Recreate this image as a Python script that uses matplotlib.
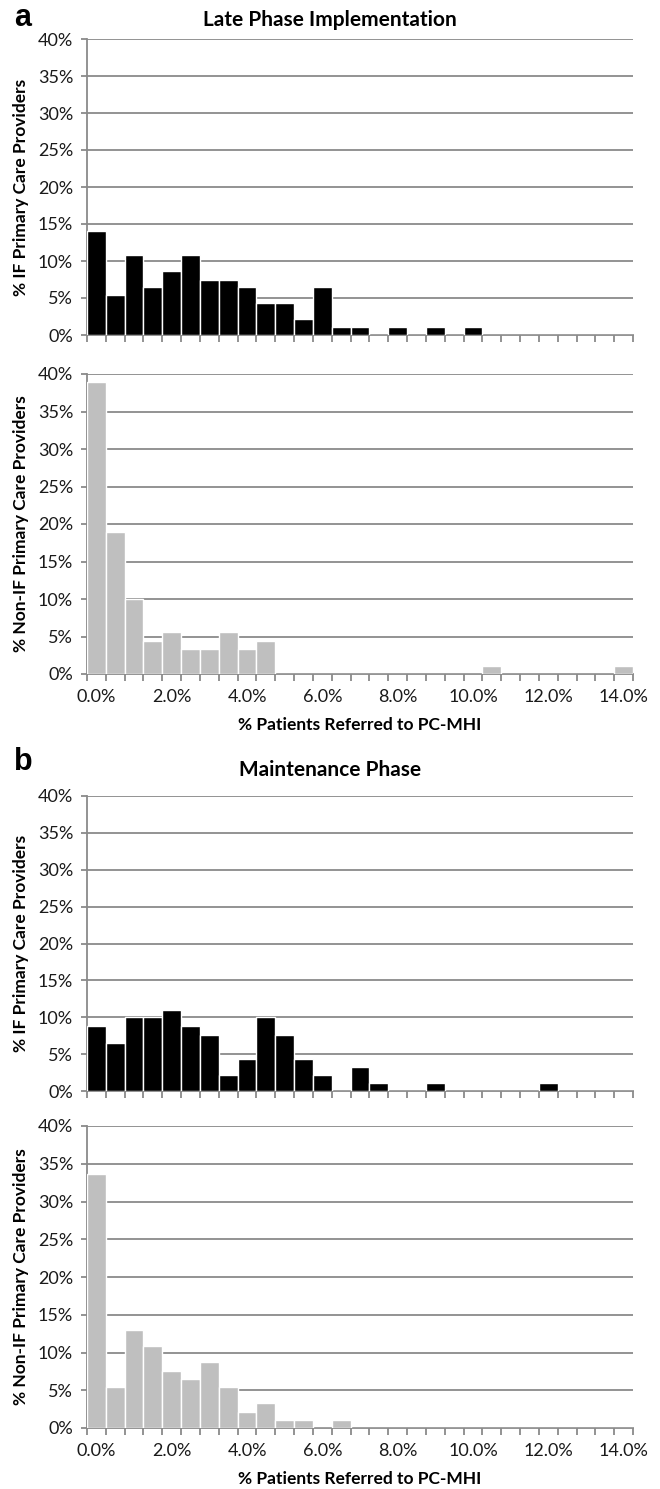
import matplotlib
matplotlib.use("Agg")
import matplotlib.pyplot as plt
from matplotlib.ticker import FixedLocator, FuncFormatter

plt.rcParams['font.family'] = ['Lato', 'DejaVu Sans']

# Bins: % patients referred to PC-MHI, 0.0% .. 14.0% step 0.5%
bins = [i * 0.5 for i in range(29)]
xtick_labels = ["0.0%", "2.0%", "4.0%", "6.0%", "8.0%", "10.0%", "12.0%", "14.0%"]
ytick_values = [0, 5, 10, 15, 20, 25, 30, 35, 40]

# Panel a: Late Phase Implementation
late_if = [14.0, 5.4, 10.8, 6.5, 8.6, 10.8, 7.5, 7.5, 6.5, 4.3, 4.3, 2.2, 6.5, 1.1, 1.1,
           0, 1.1, 0, 1.1, 0, 1.1, 0, 0, 0, 0, 0, 0, 0, 0]
late_nonif = [38.9, 18.9, 10.0, 4.4, 5.6, 3.3, 3.3, 5.6, 3.3, 4.4, 0, 0, 0, 0, 0,
              0, 0, 0, 0, 0, 0, 1.1, 0, 0, 0, 0, 0, 0, 1.1]

# Panel b: Maintenance Phase
maint_if = [8.8, 6.5, 10.0, 10.0, 11.0, 8.8, 7.6, 2.2, 4.4, 10.0, 7.6, 4.4, 2.2, 0, 3.3,
            1.1, 0, 0, 1.1, 0, 0, 0, 0, 0, 1.1, 0, 0, 0, 0]
maint_nonif = [33.6, 5.4, 13.0, 10.9, 7.6, 6.5, 8.7, 5.4, 2.1, 3.3, 1.1, 1.1, 0, 1.1, 0,
               0, 0, 0, 0, 0, 0, 0, 0, 0, 0, 0, 0, 0, 0]

titles = ["Late Phase Implementation", "Maintenance Phase"]
ylab_if = "% IF Primary Care Providers"
ylab_nonif = "% Non-IF Primary Care Providers"
xlab = "% Patients Referred to PC-MHI"

W, H = 660, 1489
fig = plt.figure(figsize=(W / 100, H / 100), dpi=100)

LEFT, RIGHT = 87, 633

def ax_rect(top, bottom, left=LEFT, right=RIGHT):
    return [left / W, 1 - bottom / H, (right - left) / W, (bottom - top) / H]

GRID = "#8a8a8a"
panels = [
    (late_if, "black", ylab_if, (39, 335), False),
    (late_nonif, "#bfbfbf", ylab_nonif, (374, 674), True),
    (maint_if, "black", ylab_if, (796, 1091), False),
    (maint_nonif, "#bfbfbf", ylab_nonif, (1126, 1428), True),
]

for vals, col, ylab, (top, bottom), show_x in panels:
    ax = fig.add_axes(ax_rect(top, bottom))
    h = bottom - top
    idx = list(range(len(bins)))
    ax.bar(idx, vals, width=1.0, color=col, edgecolor="white", linewidth=1.0, zorder=3)
    ax.set_xlim(-0.5, len(bins) - 0.5)
    ax.set_ylim(0, 40)
    ax.set_yticks(ytick_values)
    ax.yaxis.set_major_formatter(FuncFormatter(lambda v, p: f"{int(v)}%"))
    ax.yaxis.grid(True, color=GRID, linewidth=1.3, zorder=0)
    ax.set_axisbelow(True)
    for s in ["top", "right"]:
        ax.spines[s].set_visible(False)
    for s in ["left", "bottom"]:
        ax.spines[s].set_color(GRID)
        ax.spines[s].set_linewidth(1.3)
    ax.tick_params(axis="y", length=4, width=1.3, color=GRID, pad=6, labelsize=13,
                   labelcolor="#1a1a1a")
    # bin-edge tick marks
    ax.xaxis.set_major_locator(FixedLocator([i - 0.5 for i in range(len(bins) + 1)]))
    ax.xaxis.set_major_formatter(FuncFormatter(lambda v, p: ""))
    ax.tick_params(axis="x", which="major", length=5, width=1.3, color=GRID, direction="out")
    if show_x:
        ax.xaxis.set_minor_locator(FixedLocator([b / 0.5 for b in bins[::4]]))
        ax.set_xticklabels(xtick_labels, minor=True)
        ax.tick_params(axis="x", which="minor", length=0, pad=11, labelsize=13,
                       labelcolor="#1a1a1a")
        ax.set_xlabel(xlab, fontsize=12.5, fontweight="bold")
        ax.xaxis.label.set_va("center")
        ax.xaxis.set_label_coords(0.5, -51 / h)
    ax.set_ylabel(ylab, fontsize=12.5, fontweight="bold")
    ax.yaxis.label.set_va("center")
    ax.yaxis.set_label_coords(-(LEFT - 21) / (RIGHT - LEFT), 0.5)

fig.text(0.5, 1 - 20 / H, titles[0], ha="center", va="center", fontsize=15, fontweight="bold")
fig.text(0.5, 1 - 770 / H, titles[1], ha="center", va="center", fontsize=15, fontweight="bold")
fig.text(23 / W, 1 - 18 / H, "a", ha="center", va="center", fontsize=22, fontweight="bold",
         family=["Liberation Sans", "DejaVu Sans"])
fig.text(23 / W, 1 - 762 / H, "b", ha="center", va="center", fontsize=22, fontweight="bold",
         family=["Liberation Sans", "DejaVu Sans"])

fig.savefig("out.png", dpi=100, facecolor="white")
